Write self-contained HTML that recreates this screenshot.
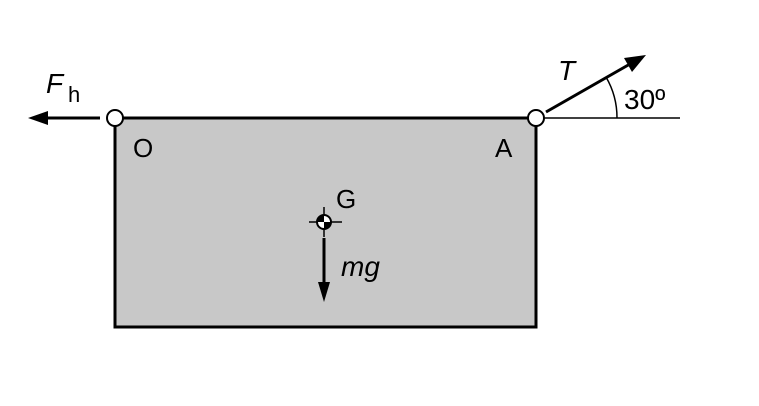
<!DOCTYPE html>
<html><head><style>body{margin:0;background:#fff}</style></head><body>
<svg width="759" height="401" xmlns="http://www.w3.org/2000/svg" font-family="Liberation Sans, Arial, sans-serif">
<rect x="115" y="118" width="421" height="209" fill="#c8c8c8" stroke="#000" stroke-width="3"/>
<line x1="544" y1="118" x2="680" y2="118" stroke="#000" stroke-width="1.5"/>
<path d="M617 118 A81 81 0 0 0 606 77" fill="none" stroke="#000" stroke-width="1.5"/>
<line x1="546" y1="112" x2="630" y2="64" stroke="#000" stroke-width="3"/>
<polygon points="646,55 624,58 632,72" fill="#000"/>
<line x1="100" y1="118" x2="45" y2="118" stroke="#000" stroke-width="3"/>
<polygon points="28,118 48,111 48,125" fill="#000"/>
<circle cx="115" cy="118" r="8" fill="#fff" stroke="#000" stroke-width="2"/>
<circle cx="536" cy="118" r="8" fill="#fff" stroke="#000" stroke-width="2"/>
<text x="46" y="93" font-size="28" font-style="italic">F</text>
<text x="68" y="102" font-size="22">h</text>
<text x="133" y="157" font-size="26">O</text>
<text x="495" y="157" font-size="26">A</text>
<text x="558" y="80" font-size="28" font-style="italic">T</text>
<text x="624" y="109" font-size="28">30º</text>
<text x="336" y="208" font-size="26">G</text>
<line x1="309" y1="222" x2="342" y2="222" stroke="#000" stroke-width="1.5"/>
<line x1="324" y1="207" x2="324" y2="237" stroke="#000" stroke-width="1.5"/>
<circle cx="324" cy="222" r="7" fill="#fff" stroke="#000" stroke-width="2"/>
<path d="M324 222 L324 215 A7 7 0 0 0 317 222 Z M324 222 L324 229 A7 7 0 0 0 331 222 Z" fill="#000"/>
<line x1="324" y1="238" x2="324" y2="285" stroke="#000" stroke-width="3"/>
<polygon points="324,302 318,282 330,282" fill="#000"/>
<text x="341" y="276" font-size="28" font-style="italic">mg</text>
</svg>
</body></html>
